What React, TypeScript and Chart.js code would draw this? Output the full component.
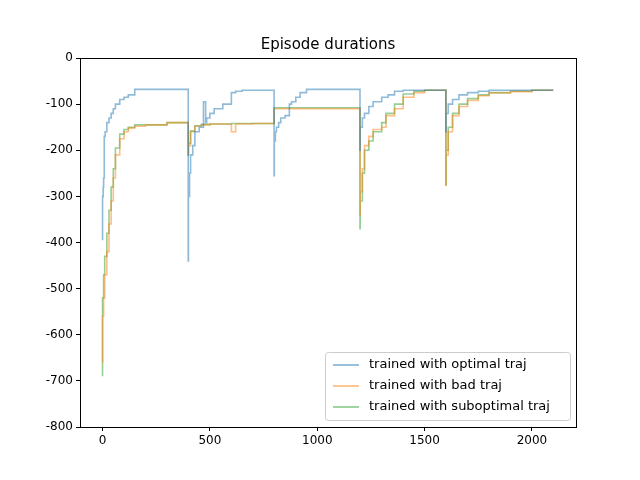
import { useEffect, useRef } from 'react'
import { Chart, registerables } from 'chart.js'

Chart.register(...registerables)

const OPT_X = [0, 3, 5, 8, 12, 20, 30, 40, 50, 60, 80, 100, 120, 150, 200, 399, 400, 405, 410, 420, 430, 450, 470, 480, 485, 500, 520, 560, 600, 620, 650, 700, 799, 800, 805, 810, 820, 830, 850, 870, 880, 900, 920, 950, 1000, 1199, 1200, 1210, 1220, 1240, 1260, 1300, 1330, 1360, 1400, 1599, 1600, 1610, 1630, 1660, 1700, 1750, 1800, 2099]
const OPT_Y = [-395, -300, -280, -260, -170, -160, -140, -130, -120, -110, -100, -90, -85, -80, -68, -68, -440, -300, -250, -210, -190, -160, -150, -95, -140, -130, -120, -110, -100, -75, -72, -70, -70, -255, -180, -160, -150, -140, -130, -125, -100, -95, -85, -75, -68, -68, -200, -150, -130, -120, -105, -95, -85, -80, -72, -70, -160, -120, -100, -90, -80, -75, -72, -70]

const BAD_X = [0, 5, 10, 20, 30, 40, 50, 60, 80, 100, 120, 150, 200, 300, 399, 400, 410, 430, 460, 500, 600, 620, 700, 799, 800, 1199, 1200, 1210, 1220, 1240, 1260, 1300, 1320, 1360, 1400, 1450, 1500, 1599, 1600, 1610, 1630, 1660, 1700, 1750, 1800, 1900, 2000, 2099]
const BAD_Y = [-660, -560, -520, -470, -420, -360, -310, -260, -210, -175, -160, -152, -148, -145, -140, -210, -190, -160, -148, -145, -143, -160, -143, -142, -110, -110, -340, -290, -240, -190, -170, -155, -150, -125, -110, -85, -75, -70, -275, -210, -160, -125, -105, -92, -82, -76, -73, -70]

const SUB_X = [0, 5, 10, 20, 30, 40, 50, 60, 80, 100, 120, 150, 200, 300, 399, 400, 410, 430, 460, 500, 600, 799, 800, 1199, 1200, 1210, 1220, 1240, 1260, 1300, 1320, 1360, 1400, 1450, 1500, 1599, 1600, 1610, 1630, 1660, 1700, 1750, 1800, 1900, 2000, 2099]
const SUB_Y = [-690, -520, -470, -430, -380, -330, -280, -240, -195, -165, -155, -150, -145, -145, -140, -210, -185, -158, -147, -144, -143, -142, -108, -108, -370, -310, -250, -200, -180, -160, -140, -120, -100, -78, -72, -70, -275, -200, -150, -120, -100, -88, -80, -75, -72, -70]

const X_TICKS = [0, 500, 1000, 1500, 2000]
const NAMES = ['trained with optimal traj', 'trained with bad traj', 'trained with suboptimal traj']
const COLORS = ['rgba(31,119,180,0.5)', 'rgba(255,127,14,0.5)', 'rgba(44,160,44,0.5)']

const FONT = 'DejaVu Sans'

const frame = {
  id: 'frame',
  afterDraw(chart: any) {
    const { ctx, chartArea: a } = chart
    ctx.save()
    ctx.strokeStyle = '#000'
    ctx.lineWidth = 1
    ctx.strokeRect(a.left + 0.5, a.top + 0.5, a.right - a.left, a.bottom - a.top)
    ctx.fillStyle = '#000'
    ctx.font = `15px "${FONT}"`
    ctx.textAlign = 'center'
    ctx.textBaseline = 'alphabetic'
    ctx.fillText('Episode durations', (a.left + a.right) / 2, a.top - 9)
    // legend
    const bx = 325, by = 352, bw = 245, bh = 68
    ctx.fillStyle = 'rgba(255,255,255,0.8)'
    ctx.strokeStyle = '#ccc'
    ctx.beginPath()
    ctx.roundRect(bx + 0.5, by + 0.5, bw, bh, 3)
    ctx.fill()
    ctx.stroke()
    ctx.font = `13px "${FONT}"`
    ctx.textAlign = 'left'
    ctx.textBaseline = 'middle'
    NAMES.forEach((n, i) => {
      const y = by + 13 + i * 21
      ctx.strokeStyle = COLORS[i]
      ctx.lineWidth = 1.8
      ctx.beginPath()
      ctx.moveTo(bx + 8, y)
      ctx.lineTo(bx + 34, y)
      ctx.stroke()
      ctx.fillStyle = '#000'
      ctx.fillText(n, bx + 44, y)
    })
    ctx.restore()
  },
}

export default function App() {
  const canvasRef = useRef<HTMLCanvasElement>(null)

  useEffect(() => {
    document.body.style.margin = '0'
    if (!canvasRef.current) return
    const mk = (xs: number[], ys: number[], i: number) => ({
      label: NAMES[i],
      data: xs.map((x, j) => ({ x, y: ys[j] })),
      borderColor: COLORS[i],
      borderWidth: 1.6,
      pointRadius: 0,
      stepped: 'after' as const,
      fill: false,
    })
    const tick = { color: '#000', font: { family: FONT, size: 12 } }
    const chart = new Chart(canvasRef.current, {
      type: 'line',
      data: { datasets: [mk(OPT_X, OPT_Y, 0), mk(BAD_X, BAD_Y, 1), mk(SUB_X, SUB_Y, 2)] },
      options: {
        animation: false,
        responsive: false,
        layout: { padding: { top: 58, right: 64, left: 0, bottom: 0 } },
        scales: {
          x: {
            type: 'linear', min: -105, max: 2205,
            afterBuildTicks: (s: any) => { s.ticks = X_TICKS.map(v => ({ value: v })) },
            afterFit: (s: any) => { s.height = 53 },
            ticks: { ...tick, padding: 3, maxRotation: 0, callback: (v: any) => String(v) },
            grid: { drawOnChartArea: false, tickLength: 4, color: '#000' },
            border: { color: '#000' },
          },
          y: {
            min: -800, max: 0,
            ticks: { ...tick, stepSize: 100, padding: 3 },
            afterFit: (s: any) => { s.width = 80 },
            grid: { drawOnChartArea: false, tickLength: 4, color: '#000' },
            border: { color: '#000' },
          },
        },
        plugins: { legend: { display: false }, tooltip: { enabled: false } },
      },
      plugins: [frame],
    })
    return () => { chart.destroy() }
  }, [])

  return <canvas ref={canvasRef} width={640} height={480} style={{ display: 'block' }} />
}
